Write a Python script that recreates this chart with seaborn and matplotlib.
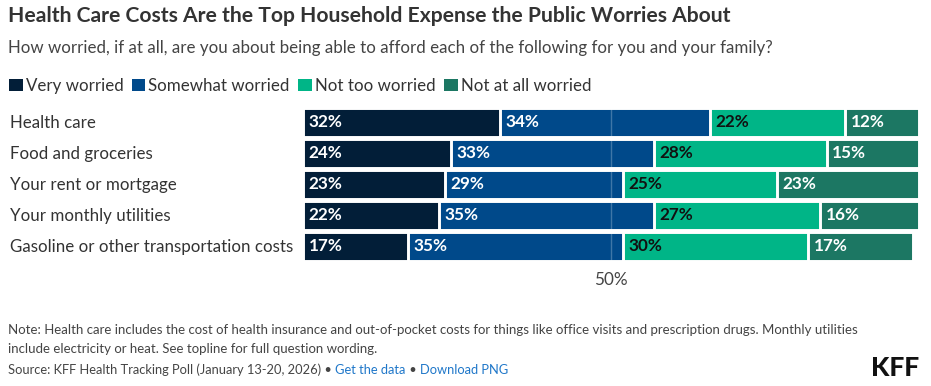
import matplotlib
matplotlib.use("Agg")
import matplotlib.pyplot as plt
import seaborn as sns
import pandas as pd
import numpy as np
from matplotlib.patches import Patch

categories = ["Health care", "Food and groceries", "Your rent or mortgage",
              "Your monthly utilities", "Gasoline or other transportation costs"]
series_names = ["Very worried", "Somewhat worried", "Not too worried", "Not at all worried"]
very_worried = [32, 24, 23, 22, 17]
somewhat_worried = [34, 33, 29, 35, 35]
not_too_worried = [22, 28, 25, 27, 30]
not_at_all_worried = [12, 15, 23, 16, 17]
colors = ["#021E38", "#00498A", "#00B587", "#1C7763"]
label_colors = ["white", "white", "#111111", "white"]

sns.set_theme(style="white")
plt.rcParams["font.family"] = ["Lato", "DejaVu Sans"]

values = [very_worried, somewhat_worried, not_too_worried, not_at_all_worried]
df = pd.DataFrame({"category": categories})
cum = np.zeros(len(categories))
for name, v in zip(series_names, values):
    cum = cum + np.array(v)
    df[name] = cum.copy()

W, H = 931, 386
fig = plt.figure(figsize=(W / 100, H / 100), dpi=100)
ax = fig.add_axes([303 / W, 1 - 262.0 / H, (919 - 303) / W, 155.5 / H])

for i in range(len(series_names) - 1, -1, -1):
    sns.barplot(data=df, y="category", x=series_names[i], orient="h",
                color=colors[i], saturation=1, width=0.935,
                edgecolor="white", linewidth=2.1, ax=ax, zorder=2)

ax.set_xlim(0, 100)
ax.set_ylim(4.5, -0.5)
ax.axvline(50, color="white", alpha=0.25, lw=1, zorder=5)
ax.set_xticks([50])
ax.set_xticklabels(["50%"], fontsize=12.3, color="#444444")
ax.tick_params(axis="x", length=0, pad=7)
ax.tick_params(axis="y", length=0, pad=0)
ax.set_yticks([])
ax.set_xlabel("")
ax.set_ylabel("")
for s in ax.spines.values():
    s.set_visible(False)

starts = np.zeros(len(categories))
for v, lc in zip(values, label_colors):
    for j, val in enumerate(v):
        ax.text(starts[j] + 0.9, j, f"{val}%", va="center", ha="left",
                color=lc, fontsize=12.3, fontweight="bold", zorder=6)
    starts = starts + np.array(v)

for j, c in enumerate(categories):
    fig.text(10 / W, 1 - (123 + 31 * j) / H, c, ha="left", va="center",
             fontsize=12.2, color="#333333")

fig.text(8 / W, 1 - 16 / H,
         "Health Care Costs Are the Top Household Expense the Public Worries About",
         ha="left", va="center", fontsize=15.2, fontweight="bold", color="#333333")
fig.text(8 / W, 1 - 48 / H,
         "How worried, if at all, are you about being able to afford each of the following for you and your family?",
         ha="left", va="center", fontsize=12.2, color="#444444")

handles = [Patch(facecolor=c, edgecolor="none") for c in colors]
fig.legend(handles, series_names, loc="center left", bbox_to_anchor=(9 / W, 1 - 86 / H),
           ncol=4, frameon=False, handlelength=0.8, handleheight=0.78,
           handletextpad=0.18, columnspacing=0.5, fontsize=12.2,
           labelcolor="#333333", borderaxespad=0, borderpad=0)

fig.text(8 / W, 1 - 330 / H,
         "Note: Health care includes the cost of health insurance and out-of-pocket costs for things like office visits and prescription drugs. Monthly utilities",
         ha="left", va="center", fontsize=9.52, color="#444444")
fig.text(8 / W, 1 - 349 / H,
         "include electricity or heat. See topline for full question wording.",
         ha="left", va="center", fontsize=9.52, color="#444444")

fs = 9.3
t1 = fig.text(8 / W, 1 - 370 / H, "Source: KFF Health Tracking Poll (January 13-20, 2026) \u2022 ",
              ha="left", va="center", fontsize=fs, color="#444444")
fig.canvas.draw()
r = fig.canvas.get_renderer()
bb = t1.get_window_extent(r)
t2 = fig.text(bb.x1 / W, 1 - 370 / H, "Get the data", ha="left", va="center",
              fontsize=fs, color="#1F77C9")
bb2 = t2.get_window_extent(r)
t3 = fig.text(bb2.x1 / W, 1 - 370 / H, " \u2022 ", ha="left", va="center",
              fontsize=fs, color="#444444")
bb3 = t3.get_window_extent(r)
fig.text(bb3.x1 / W, 1 - 370 / H, "Download PNG", ha="left", va="center",
         fontsize=fs, color="#1F77C9")

fig.text(919 / W, 1 - 367.5 / H, "KFF", ha="right", va="center", fontsize=19,
         fontweight="black", color="#111111")

fig.savefig("out.png", dpi=100)
